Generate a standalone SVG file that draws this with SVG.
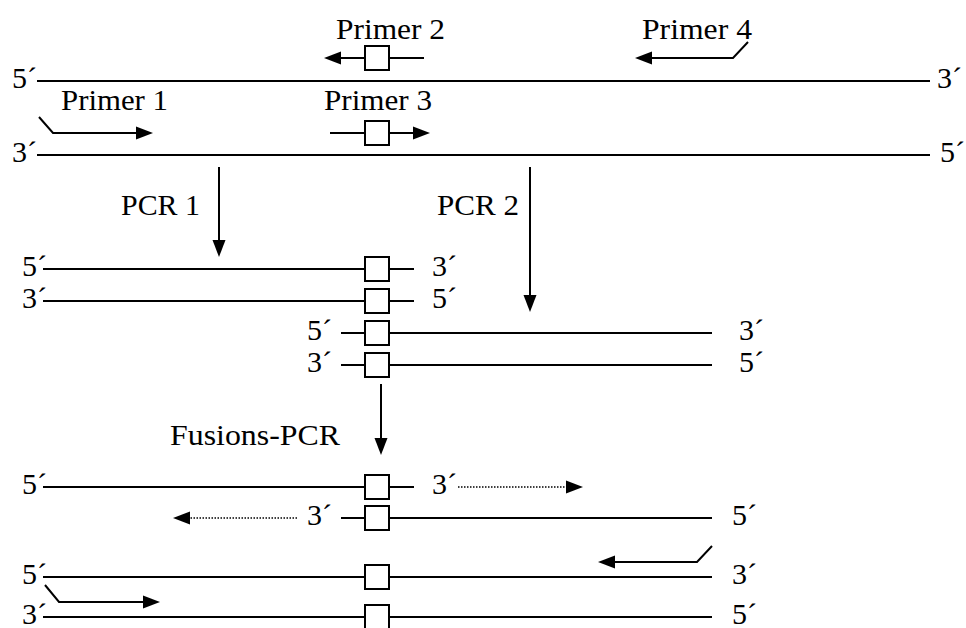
<svg xmlns="http://www.w3.org/2000/svg" width="966" height="628" viewBox="0 0 966 628">
<defs>
<style>
text{font-family:'Liberation Serif','Times New Roman',Times,serif;font-size:30px;fill:#000}
.s{stroke:#000;stroke-width:2;fill:none}
.b{stroke:#000;stroke-width:2;fill:#fff}
.d{stroke:#000;stroke-width:1.5;stroke-dasharray:1.5 1.5;fill:none}
.a{marker-end:url(#ah)}
</style>
<marker id="ah" markerUnits="userSpaceOnUse" markerWidth="17" markerHeight="14" refX="9" refY="7" orient="auto">
<path d="M0,0.5 L17,7 L0,13.5 z" fill="#000"/>
</marker>
</defs>
<rect width="966" height="628" fill="#fff"/>

<g id="template">
<line class="s" x1="37" y1="81" x2="930" y2="81"/>
<text x="12" y="88">5´</text>
<text x="937" y="88">3´</text>
<line class="s" x1="37" y1="155" x2="930" y2="155"/>
<text x="12" y="162">3´</text>
<text x="940" y="162">5´</text>
</g>

<g id="primer1">
<text x="61" y="110" textLength="107" lengthAdjust="spacingAndGlyphs">Primer 1</text>
<polyline class="s a" points="39,117 53,133 145,133"/>
</g>
<g id="primer2">
<text x="336" y="39" textLength="109" lengthAdjust="spacingAndGlyphs">Primer 2</text>
<line class="s a" x1="424" y1="58" x2="332" y2="58"/>
<rect class="b" x="365" y="46" width="24" height="24"/>
</g>
<g id="primer3">
<text x="324" y="110" textLength="108" lengthAdjust="spacingAndGlyphs">Primer 3</text>
<line class="s a" x1="330" y1="133" x2="422" y2="133"/>
<rect class="b" x="365" y="121" width="24" height="24"/>
</g>
<g id="primer4">
<text x="642" y="39" textLength="110" lengthAdjust="spacingAndGlyphs">Primer 4</text>
<polyline class="s a" points="748,42 733,58 643,58"/>
</g>

<g id="pcr1-products">
<text x="22" y="276">5´</text>
<line class="s" x1="43" y1="269" x2="414" y2="269"/>
<rect class="b" x="365" y="257" width="24" height="24"/>
<text x="432" y="276">3´</text>
<text x="22" y="308">3´</text>
<line class="s" x1="43" y1="301" x2="414" y2="301"/>
<rect class="b" x="365" y="289" width="24" height="24"/>
<text x="432" y="308">5´</text>
</g>

<g id="pcr2-products">
<text x="307" y="340">5´</text>
<line class="s" x1="341" y1="333" x2="712" y2="333"/>
<rect class="b" x="365" y="321" width="24" height="24"/>
<text x="739" y="340">3´</text>
<text x="307" y="372">3´</text>
<line class="s" x1="341" y1="365" x2="712" y2="365"/>
<rect class="b" x="365" y="353" width="24" height="24"/>
<text x="739" y="372">5´</text>
</g>

<g id="fusion-annealed">
<text x="22" y="494">5´</text>
<line class="s" x1="43" y1="487" x2="414" y2="487"/>
<rect class="b" x="365" y="475" width="24" height="24"/>
<text x="432" y="494">3´</text>
<line class="d a" x1="458" y1="487" x2="575" y2="487"/>
<line class="d a" x1="297" y1="518" x2="181" y2="518"/>
<text x="307" y="525">3´</text>
<line class="s" x1="341" y1="518" x2="712" y2="518"/>
<rect class="b" x="365" y="506" width="24" height="24"/>
<text x="732" y="525">5´</text>
</g>

<g id="fusion-product">
<text x="22" y="584">5´</text>
<line class="s" x1="43" y1="577" x2="712" y2="577"/>
<rect class="b" x="365" y="565" width="24" height="24"/>
<text x="732" y="584">3´</text>
<polyline class="s a" points="712,546 697,562 606,562"/>
<polyline class="s a" points="45,585 59,602 152,602"/>
<text x="22" y="624">3´</text>
<line class="s" x1="43" y1="617" x2="712" y2="617"/>
<rect class="b" x="365" y="605" width="24" height="24"/>
<text x="732" y="624">5´</text>
</g>

<g id="steps">
<text x="121" y="215" textLength="79" lengthAdjust="spacingAndGlyphs">PCR 1</text>
<text x="437" y="215" textLength="82" lengthAdjust="spacingAndGlyphs">PCR 2</text>
<text x="170" y="445" textLength="170" lengthAdjust="spacingAndGlyphs">Fusions-PCR</text>
</g>

<g id="connectors">
<line class="s a" x1="219" y1="167" x2="219" y2="249"/>
<line class="s a" x1="530" y1="167" x2="530" y2="304"/>
<line class="s a" x1="381" y1="384" x2="381" y2="447"/>
</g>
</svg>
